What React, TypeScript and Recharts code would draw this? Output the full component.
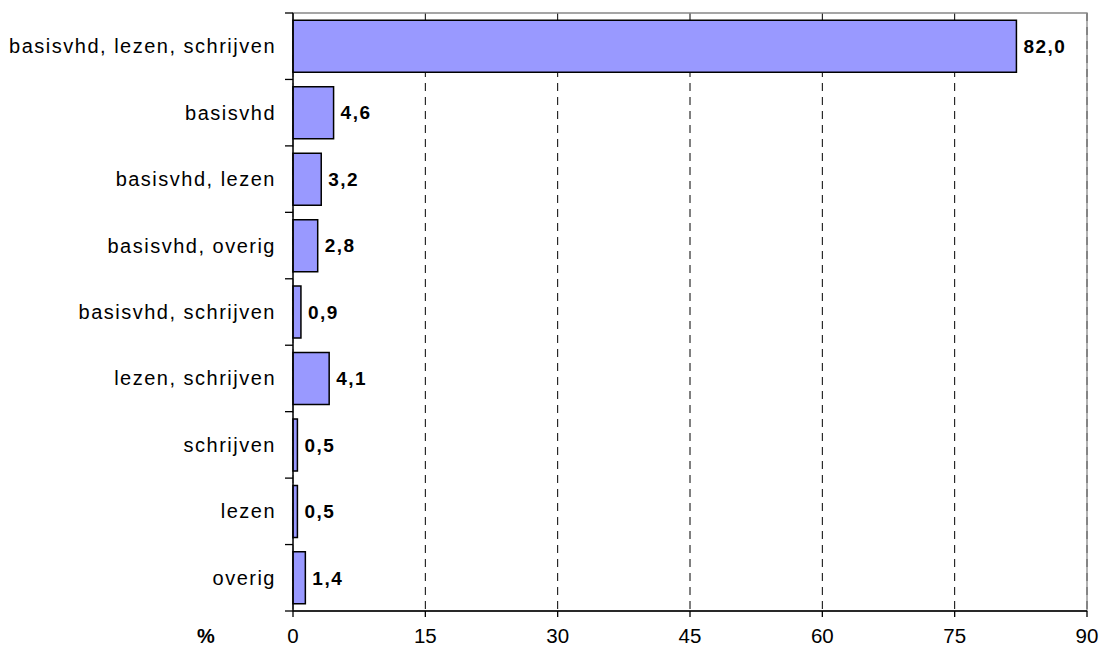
import React from 'react';
import { BarChart, Bar, XAxis, YAxis, CartesianGrid, LabelList, ReferenceArea } from 'recharts';

const categories = [
  'basisvhd, lezen, schrijven',
  'basisvhd',
  'basisvhd, lezen',
  'basisvhd, overig',
  'basisvhd, schrijven',
  'lezen, schrijven',
  'schrijven',
  'lezen',
  'overig',
];
const values = [82.0, 4.6, 3.2, 2.8, 0.9, 4.1, 0.5, 0.5, 1.4];
const xTicks = [0, 15, 30, 45, 60, 75, 90];

const data = categories.map((c, i) => ({ name: c, value: values[i] }));

const FONT = '"Liberation Sans", Arial, sans-serif';

const CatTick = (props: any) => {
  const { x, y, payload, index, visibleTicksCount } = props;
  const half = payload && payload.offset ? payload.offset : 33.2;
  const isLast = visibleTicksCount ? index === visibleTicksCount - 1 : index === categories.length - 1;
  return (
    <g>
      <line x1={x - 8} x2={x} y1={y - half} y2={y - half} stroke="#000" strokeWidth={1.3} />
      {isLast && <line x1={x - 8} x2={x} y1={y + half} y2={y + half} stroke="#000" strokeWidth={1.3} />}
      <text x={x - 17} y={y} dy="0.35em" textAnchor="end" fontSize={20} fontFamily={FONT} letterSpacing={1.5} fill="#000">
        {payload.value}
      </text>
    </g>
  );
};

const XTick = (props: any) => {
  const { x, payload } = props;
  return (
    <text x={x} y={643} textAnchor="middle" fontSize={20.5} fontFamily={FONT} fill="#000">
      {payload.value}
    </text>
  );
};

const fmt = (v: any) => Number(v).toFixed(1).replace('.', ',');

export default function App() {
  return (
    <div style={{ position: 'absolute', left: 0, top: 0, width: 1101, height: 648, background: '#fff' }}>
      <BarChart
        width={1101}
        height={648}
        data={data}
        layout="vertical"
        margin={{ top: 13, right: 14, bottom: 0, left: 0 }}
        barCategoryGap="11%"
      >
        <CartesianGrid vertical horizontal={false} stroke="#000" strokeDasharray="8 6" />
        <ReferenceArea x1={0} x2={90} fill="none" fillOpacity={0} stroke="#888" strokeWidth={1.3} ifOverflow="visible" />
        <XAxis
          type="number"
          domain={[0, 90]}
          ticks={xTicks}
          interval={0}
          height={37}
          tickSize={6}
          axisLine={{ stroke: '#000', strokeWidth: 1.3 }}
          tickLine={{ stroke: '#000', strokeWidth: 1.3 }}
          tick={<XTick />}
        />
        <YAxis
          type="category"
          dataKey="name"
          width={293}
          axisLine={{ stroke: '#000', strokeWidth: 1.3 }}
          tickLine={false}
          tickSize={0}
          tickMargin={0}
          interval={0}
          tick={<CatTick />}
        />
        <Bar dataKey="value" fill="#9999FF" stroke="#000" strokeWidth={1.5} isAnimationActive={false}>
          <LabelList
            dataKey="value"
            position="right"
            offset={7}
            formatter={fmt}
            fill="#000"
            fontSize={19}
            fontWeight="bold"
            fontFamily={FONT}
            letterSpacing={1.5}
          />
        </Bar>
      </BarChart>
      <div
        style={{
          position: 'absolute',
          left: 197,
          top: 626,
          fontFamily: FONT,
          fontWeight: 'bold',
          fontSize: 20,
          lineHeight: '20px',
          color: '#000',
        }}
      >
        %
      </div>
    </div>
  );
}
